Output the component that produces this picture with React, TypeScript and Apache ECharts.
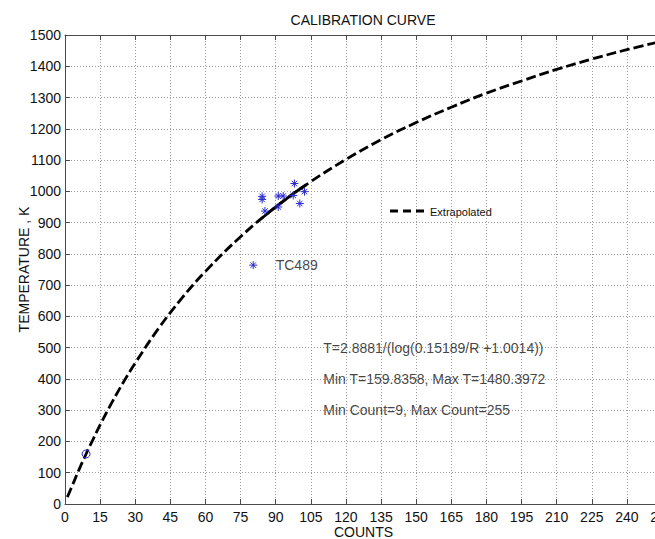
import React, { useEffect, useRef } from "react";
import * as echarts from "echarts";

// Dashed calibration curve
const curveCounts = [1, 3, 6, 9, 12, 15, 20, 25, 30, 40, 50, 60, 75, 90, 105, 120, 135, 150, 165, 180, 195, 210, 225, 240, 255];
const curveTemps = [22, 57, 110, 160, 207, 253, 324, 390, 451, 562, 659, 744, 855, 950, 1031, 1102, 1165, 1220, 1269, 1314, 1353, 1390, 1423, 1453, 1480];

// Solid fitted segment over the data range
const fitCounts = [82, 86, 90, 94, 98, 103];
const fitTemps = [901, 926, 950, 973, 995, 1021];

// Asterisk measurements
const starCounts = [84.2, 84.2, 85.4, 91.1, 93.2, 91.1, 97.5, 98.0, 102.3, 100.3, 80.4];
const starTemps = [984, 974, 937, 985, 985, 950, 987, 1025, 999, 961, 764];

// Circle measurement
const circleCounts = [9];
const circleTemps = [160];

// Annotations
const noteLines = [
  "T=2.8881/(log(0.15189/R +1.0014))",
  "Min T=159.8358, Max T=1480.3972",
  "Min Count=9, Max Count=255",
];
const noteCounts = [110.3, 110.3, 110.3];
const noteTemps = [500, 400, 300];
const tcLabel = "TC489";
const tcCount = 90;
const tcTemp = 764;
const legendLabel = "Extrapolated";

const FONT = "'Liberation Sans', Arial, Helvetica, sans-serif";
const AXIS_COLOR = "#4a4a4a";
const MARK_BLUE = "#2a2ad0";

const zip = (a: number[], b: number[]) => a.map((v, i) => [v, b[i]]);

export default function App() {
  const ref = useRef<HTMLDivElement>(null);
  useEffect(() => {
    if (!ref.current) return;
    const chart = echarts.init(ref.current, undefined, { renderer: "svg" });
    const tickStyle = { lineStyle: { color: AXIS_COLOR, width: 1 } };
    const baseX = { type: "value" as const, min: 0, max: 255, interval: 15 };
    const baseY = { type: "value" as const, min: 0, max: 1500, interval: 100 };
    const plain = (v: number) => String(v);
    chart.setOption({
      animation: false,
      backgroundColor: "#ffffff",
      textStyle: { fontFamily: FONT },
      grid: { left: 65, top: 35, bottom: 35, right: -7, containLabel: false, outerBoundsMode: "none" },
      graphic: [
        {
          type: "text",
          x: 363,
          y: 19.5,
          style: {
            text: "CALIBRATION CURVE",
            fontSize: 14,
            fontFamily: FONT,
            fill: "#111",
            textAlign: "center",
            textVerticalAlign: "middle",
          },
        },
        {
          type: "line",
          shape: { x1: 390, y1: 211, x2: 424, y2: 211 },
          style: { stroke: "#000", lineWidth: 2.8, lineDash: [8, 5] },
          z: 10,
        },
        {
          type: "text",
          x: 430,
          y: 211.5,
          style: {
            text: legendLabel,
            fontSize: 11,
            fontFamily: FONT,
            fill: "#111",
            textAlign: "left",
            textVerticalAlign: "middle",
          },
          z: 10,
        },
      ],
      xAxis: [
        {
          ...baseX,
          position: "bottom",
          name: "COUNTS",
          nameLocation: "middle",
          nameGap: 21,
          nameMoveOverlap: false,
          nameTextStyle: { fontSize: 14, lineHeight: 14, color: "#111", fontFamily: FONT },
          axisLine: { show: true, ...tickStyle },
          axisTick: { show: true, inside: true, length: 5, ...tickStyle },
          axisLabel: { fontSize: 14, lineHeight: 14, color: "#111", margin: 6, fontFamily: FONT, showMaxLabel: true, showMinLabel: true, formatter: plain },
          splitLine: { show: true, lineStyle: { color: "#9a9a9a", type: [1, 2], width: 1 } },
        },
        {
          ...baseX,
          position: "top",
          axisLine: { show: true, onZero: false, ...tickStyle },
          axisTick: { show: true, inside: true, length: 5, ...tickStyle },
          axisLabel: { show: false },
          splitLine: { show: false },
        },
      ],
      yAxis: [
        {
          ...baseY,
          position: "left",
          name: "TEMPERATURE , K",
          nameLocation: "middle",
          nameGap: 34,
          nameMoveOverlap: false,
          nameTextStyle: { fontSize: 14, color: "#111", fontFamily: FONT },
          axisLine: { show: true, ...tickStyle },
          axisTick: { show: true, inside: true, length: 5, ...tickStyle },
          axisLabel: { fontSize: 14, color: "#111", margin: 4, fontFamily: FONT, showMaxLabel: true, showMinLabel: true, formatter: plain },
          splitLine: { show: true, lineStyle: { color: "#9a9a9a", type: [1, 2], width: 1 } },
        },
        {
          ...baseY,
          position: "right",
          axisLine: { show: true, onZero: false, ...tickStyle },
          axisTick: { show: true, inside: true, length: 5, ...tickStyle },
          axisLabel: { show: false },
          splitLine: { show: false },
        },
      ],
      series: [
        {
          name: legendLabel,
          type: "line",
          data: zip(curveCounts, curveTemps),
          smooth: 0.4,
          symbol: "none",
          itemStyle: { color: "#000" },
          lineStyle: { color: "#000", width: 2.8, type: [10, 4] },
          z: 3,
        },
        {
          name: "Fit",
          type: "line",
          data: zip(fitCounts, fitTemps),
          smooth: 0.4,
          symbol: "none",
          itemStyle: { color: "#000" },
          lineStyle: { color: "#000", width: 2.8, type: "solid" },
          z: 4,
        },
        {
          name: "Data",
          type: "scatter",
          data: zip(starCounts, starTemps),
          symbol: "path://M5,0L5,10M0,5L10,5M1.6,1.6L8.4,8.4M8.4,1.6L1.6,8.4",
          symbolSize: 8,
          itemStyle: { color: "transparent", borderColor: MARK_BLUE, borderWidth: 1, opacity: 1 },
          z: 5,
        },
        {
          name: "Min",
          type: "scatter",
          data: zip(circleCounts, circleTemps),
          symbol: "circle",
          symbolSize: 8,
          itemStyle: { color: "transparent", borderColor: MARK_BLUE, borderWidth: 1, opacity: 1 },
          z: 5,
        },
        {
          name: "Notes",
          type: "scatter",
          symbolSize: 0,
          silent: true,
          data: noteLines
            .map((t, i) => ({ value: [noteCounts[i], noteTemps[i]], text: t }))
            .concat([{ value: [tcCount, tcTemp], text: tcLabel }]),
          label: {
            show: true,
            position: "right",
            distance: 0,
            formatter: (p: any) => p.data.text,
            fontSize: 14,
            color: "#111",
            fontFamily: FONT,
            align: "left",
            verticalAlign: "middle",
          },
          z: 6,
        },
      ],
    });
    return () => chart.dispose();
  }, []);
  return (
    <div
      ref={ref}
      style={{ position: "fixed", left: 0, top: 0, width: 655, height: 539, background: "#fff" }}
    />
  );
}
